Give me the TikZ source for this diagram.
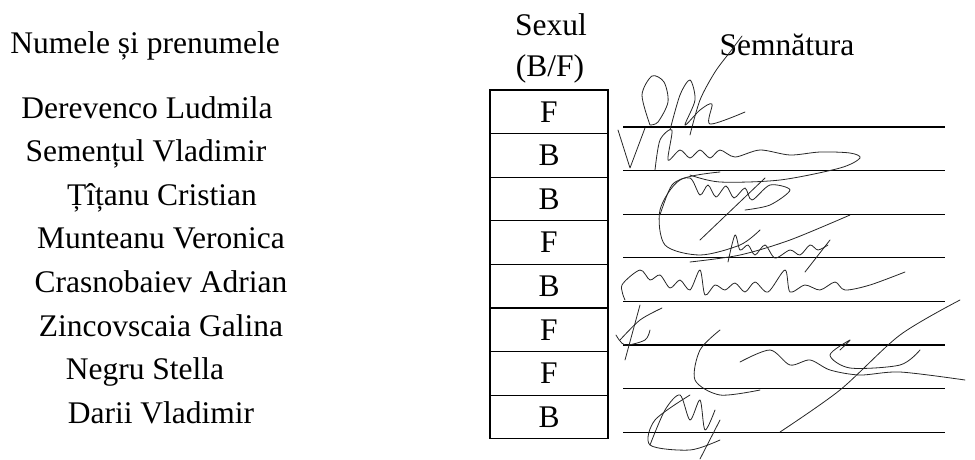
\documentclass[tikz,border=0pt]{standalone}
\usepackage{fontspec}
\setmainfont{Liberation Serif}
\usetikzlibrary{positioning}

\tikzset{
  txt/.style={font=\fontsize{31.5}{36}\selectfont, anchor=base, inner sep=0pt},
  sexbox/.style={draw, line width=1.2pt, minimum width=118pt, minimum height=43.6pt,
    inner sep=0pt, outer sep=0pt, font=\fontsize{31.5}{36}\selectfont},
  signline/.style={line width=1.2pt},
  ink/.style={line width=0.8pt, line cap=round, line join=round, black!85}
}

\begin{document}
\begin{tikzpicture}[x=1pt, y=-1pt]

\useasboundingbox (0,0) rectangle (975,459);

% header
\node[txt] (hname) at (145,53) {Numele și prenumele};
\node[txt] (hsex) at (551,35) {Sexul};
\node[txt] (hbf) at (550,76) {(B/F)};
\node[txt] (hsig) at (787,55) {Semnătura};

% names
\node[txt] (n1) at (147,118) {Derevenco Ludmila};
\node[txt] (n2) at (146,161.6) {Semențul Vladimir};
\node[txt] (n3) at (162,205.2) {Țîțanu Cristian};
\node[txt] (n4) at (161,248.8) {Munteanu Veronica};
\node[txt] (n5) at (161,292.4) {Crasnobaiev Adrian};
\node[txt] (n6) at (161,336) {Zincovscaia Galina};
\node[txt] (n7) at (145,379.6) {Negru Stella};
\node[txt] (n8) at (161,423.2) {Darii Vladimir};

% sex column
\node[sexbox, anchor=north] (s1) at (549,90) {F};
\node[sexbox, below=0pt of s1] (s2) {B};
\node[sexbox, below=0pt of s2] (s3) {B};
\node[sexbox, below=0pt of s3] (s4) {F};
\node[sexbox, below=0pt of s4] (s5) {B};
\node[sexbox, below=0pt of s5] (s6) {F};
\node[sexbox, below=0pt of s6] (s7) {F};
\node[sexbox, below=0pt of s7] (s8) {B};

% signature lines
\draw[signline] (623,127) -- (945,127);
\draw[signline] (623,170.6) -- (945,170.6);
\draw[signline] (623,214.2) -- (945,214.2);
\draw[signline] (623,257.8) -- (945,257.8);
\draw[signline] (623,301.4) -- (945,301.4);
\draw[signline] (623,345) -- (945,345);
\draw[signline] (623,388.6) -- (945,388.6);
\draw[signline] (623,432.2) -- (945,432.2);

% signatures
\draw[ink] plot[smooth] coordinates {(650,125) (642,95) (652,76) (664,82) (668,102) (658,122) (650,125)};
\draw[ink] plot[smooth] coordinates {(690,135) (700,100) (715,72) (730,52) (742,36)};
\draw[ink] plot[smooth] coordinates {(670,130) (680,95) (690,80) (695,100) (685,125) (700,110) (712,104) (710,124) (745,112)};

\draw[ink] (618,130) -- (630,168) -- (645,128);
\draw[ink] plot[smooth] coordinates {(655,170) (660,140) (672,130) (668,160) (680,150) (690,158) (700,150) (710,158) (720,150) (735,157) (760,150) (790,155) (820,152) (850,153) (860,158) (840,168) (780,180) (720,182) (690,175)};

\draw[ink] plot[smooth] coordinates {(660,215) (672,185) (690,178) (700,195) (708,185) (716,197) (726,186) (734,198) (745,188) (752,200) (770,185) (790,190) (770,205) (745,210)};
\draw[ink] plot[smooth] coordinates {(720,172) (680,180) (660,210) (665,245) (700,255) (740,245) (760,230)};
\draw[ink] (700,240) -- (765,178);

\draw[ink] plot[smooth] coordinates {(728,262) (735,235) (740,250) (748,245) (755,255) (765,245) (775,258) (790,250) (800,255) (810,245) (818,250) (828,245)};
\draw[ink] plot[smooth] coordinates {(690,262) (740,255) (790,240) (850,215)};
\draw[ink] (805,272) -- (830,240);

\draw[ink] plot[smooth] coordinates {(625,300) (622,285) (640,270) (650,280) (660,275) (670,288) (680,280) (690,290) (700,270) (705,295) (715,285) (725,290) (735,283) (745,292) (755,282) (768,292) (785,270) (790,292) (805,285) (820,290) (835,282) (845,290) (870,285) (905,272)};

\draw[ink] plot[smooth] coordinates {(620,340) (640,320) (662,308)};
\draw[ink] plot[smooth] coordinates {(616,335) (625,345) (645,340) (650,330)};
\draw[ink] (640,305) -- (625,360);

\draw[ink] plot[smooth] coordinates {(720,330) (700,350) (695,380) (720,395) (760,390)};
\draw[ink] plot[smooth] coordinates {(780,432) (840,390) (900,335) (960,300)};
\draw[ink] plot[smooth] coordinates {(840,350) (850,340) (830,355) (850,368) (900,365) (920,350)};
\draw[ink] plot[smooth] coordinates {(740,362) (770,350) (790,365) (810,360) (830,370) (860,375) (900,372) (965,380)};

\draw[ink] plot[smooth] coordinates {(650,445) (665,410) (680,395) (690,420) (700,400) (705,430) (715,410)};
\draw[ink] plot[smooth] coordinates {(690,395) (655,420) (650,445) (690,450) (720,440)};
\draw[ink] (700,459) -- (720,420);

\end{tikzpicture}
\end{document}
